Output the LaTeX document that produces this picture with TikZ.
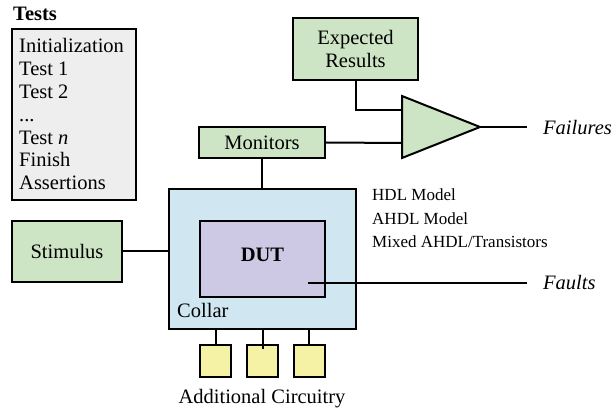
\documentclass[tikz,border=0pt]{standalone}
\usepackage{fontspec}
\setmainfont{Liberation Serif}
\definecolor{boxgreen}{RGB}{205,229,196}
\definecolor{collarblue}{RGB}{208,230,240}
\definecolor{dutviolet}{RGB}{205,201,229}
\definecolor{auxyellow}{RGB}{245,242,166}
\definecolor{listgray}{RGB}{238,238,238}
\begin{document}
\begin{tikzpicture}[x=1pt,y=-1pt,
  every node/.style={font=\fontsize{20.5}{23}\selectfont, inner sep=0pt},
  wire/.style={draw=black, line width=2pt},
  block/.style={draw=black, line width=2pt, rectangle},
  greenblock/.style={block, fill=boxgreen},
  smalltxt/.style={font=\fontsize{17}{20}\selectfont, anchor=base west},
  listtxt/.style={anchor=base west},
  outtxt/.style={font=\fontsize{20.5}{23}\selectfont\itshape, anchor=base west}]
\useasboundingbox (0,0) rectangle (613,411);

% test list
\node[anchor=base west, font=\fontsize{20.5}{23}\selectfont\bfseries] (teststitle) at (13,21) {Tests};
\path[block, fill=listgray] (12,29) rectangle (136,200);
\node[listtxt] (tinit) at (19,53) {Initialization};
\node[listtxt] (t1) at (19,75.8) {Test 1};
\node[listtxt] (t2) at (19,98.6) {Test 2};
\node[listtxt] (tdots) at (19,121.4) {...};
\node[listtxt] (tn) at (19,144.2) {Test \textit{n}};
\node[listtxt] (tfin) at (19,167) {Finish};
\node[listtxt] (tass) at (19,189.8) {Assertions};

% green blocks
\node[greenblock, minimum width=125pt, minimum height=62pt, align=center] (er) at (355.5,49) {Expected\\Results};
\node[greenblock, minimum width=126pt, minimum height=31pt] (mon) at (262,142.5) {Monitors};
\node[greenblock, minimum width=110pt, minimum height=61pt] (stim) at (67,251.5) {Stimulus};

% comparator
\coordinate (cmpA) at (402,110);
\coordinate (cmpB) at (402,143);
\coordinate (cmpOut) at (480,127);
\path[block, fill=boxgreen, line join=miter] (402,96) -- (480,127) -- (402,158) -- cycle;
\coordinate (failEnd) at (527,127);
\node[outtxt] (fail) at (543,135) {Failures};

% collar and DUT
\node[block, fill=collarblue, minimum width=187pt, minimum height=140pt] (collar) at (262.5,259) {};
\node[block, fill=dutviolet, minimum width=125pt, minimum height=76pt] (dut) at (262.5,259) {};
\node[anchor=base, font=\fontsize{20.5}{23}\selectfont\bfseries] (dutlbl) at (262.5,262) {DUT};
\node[anchor=base west] (collarlbl) at (177,318) {Collar};
\coordinate (dutTap) at (308,283);
\coordinate (faultEnd) at (527,283);
\node[outtxt] (faults) at (543,290) {Faults};

% model options
\node[smalltxt] (m1) at (372,201) {HDL Model};
\node[smalltxt] (m2) at (372,224.5) {AHDL Model};
\node[smalltxt] (m3) at (372,248) {Mixed AHDL/Transistors};

% additional circuitry
\node[block, fill=auxyellow, minimum width=31pt, minimum height=32pt] (aux1) at (215.5,361) {};
\node[block, fill=auxyellow, minimum width=31pt, minimum height=32pt] (aux2) at (262.5,361) {};
\node[block, fill=auxyellow, minimum width=31pt, minimum height=32pt] (aux3) at (309,361) {};
\node[anchor=base] (auxlbl) at (262,403) {Additional Circuitry};

% connectors
\draw[wire] (er.south) |- (cmpA);
\draw[wire] (mon.east) -- (cmpB);
\draw[wire] (cmpOut) -- (failEnd);
\draw[wire] (mon.south) -- (mon.south |- collar.north);
\draw[wire] (stim.east) -- (stim.east -| collar.west);
\draw[wire] (dutTap) -- (faultEnd);
\draw[wire] (aux1.north |- collar.south) -- (aux1.north);
\draw[wire] (aux2.north |- collar.south) -- ([yshift=-5pt]aux2.north);
\draw[wire] (aux3.north |- collar.south) -- (aux3.north);
\end{tikzpicture}
\end{document}
